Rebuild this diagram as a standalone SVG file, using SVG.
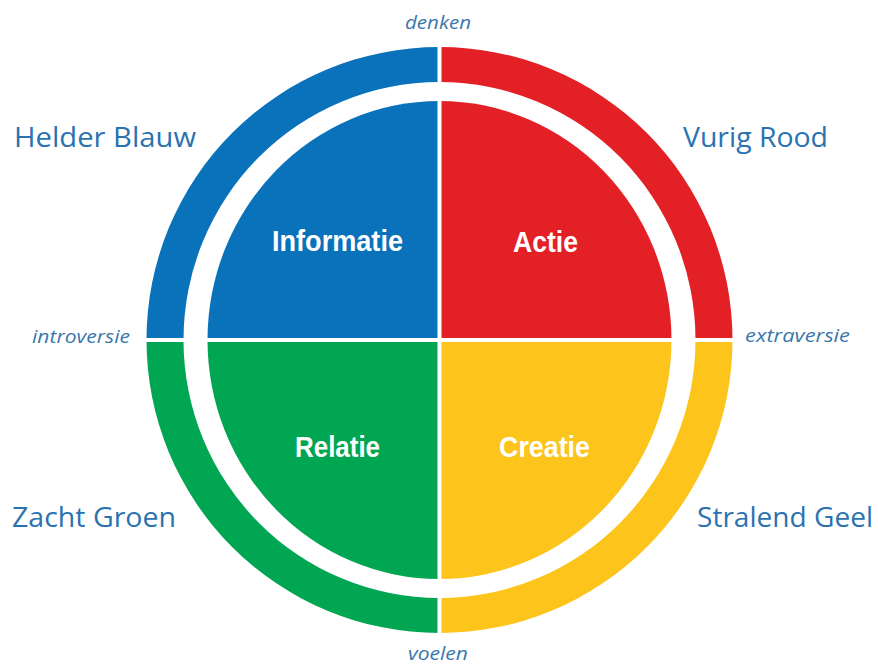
<svg xmlns="http://www.w3.org/2000/svg" width="878" height="664" viewBox="0 0 878 664">
  <style>
    .blue { fill: #0a71bb; }
    .red { fill: #e42027; }
    .yellow { fill: #fdc41b; }
    .green { fill: #00a651; }
    .core { font-family: "Liberation Sans", Arial, sans-serif; font-weight: bold; font-size: 30px; fill: #ffffff; text-anchor: middle; }
    .name { font-family: "Open Sans", "DejaVu Sans", sans-serif; font-size: 28px; fill: #2a72b0; }
    .axis { font-family: "Open Sans", "DejaVu Sans", sans-serif; font-style: italic; font-size: 18px; fill: #3a77ad; }
    .divider { stroke: #ffffff; stroke-width: 4; fill: none; }
  </style>
  <rect width="878" height="664" fill="#ffffff"/>

  <!-- top-left quadrant: blue -->
  <g id="helder-blauw">
    <path class="blue" d="M146.5 340 A293 293 0 0 1 439.5 47 L439.5 82 A256 258 0 0 0 183.5 340 Z"/>
    <path class="blue" d="M439.5 340 L207.5 340 A232 239 0 0 1 439.5 101 Z"/>
    <text class="core" x="337.5" y="251" textLength="131" lengthAdjust="spacingAndGlyphs">Informatie</text>
    <text class="name" x="14" y="147" textLength="182" lengthAdjust="spacingAndGlyphs">Helder Blauw</text>
  </g>

  <!-- top-right quadrant: red -->
  <g id="vurig-rood">
    <path class="red" d="M439.5 47 A293 293 0 0 1 732.5 340 L695.5 340 A256 258 0 0 0 439.5 82 Z"/>
    <path class="red" d="M439.5 340 L439.5 101 A232 239 0 0 1 671.5 340 Z"/>
    <text class="core" x="545.5" y="252" textLength="65" lengthAdjust="spacingAndGlyphs">Actie</text>
    <text class="name" x="683" y="147" textLength="145" lengthAdjust="spacingAndGlyphs">Vurig Rood</text>
  </g>

  <!-- bottom-right quadrant: yellow -->
  <g id="stralend-geel">
    <path class="yellow" d="M732.5 340 A293 293 0 0 1 439.5 633 L439.5 598 A256 258 0 0 0 695.5 340 Z"/>
    <path class="yellow" d="M439.5 340 L671.5 340 A232 239 0 0 1 439.5 579 Z"/>
    <text class="core" x="544.5" y="457" textLength="91" lengthAdjust="spacingAndGlyphs">Creatie</text>
    <text class="name" x="697" y="527" textLength="176" lengthAdjust="spacingAndGlyphs">Stralend Geel</text>
  </g>

  <!-- bottom-left quadrant: green -->
  <g id="zacht-groen">
    <path class="green" d="M439.5 633 A293 293 0 0 1 146.5 340 L183.5 340 A256 258 0 0 0 439.5 598 Z"/>
    <path class="green" d="M439.5 340 L439.5 579 A232 239 0 0 1 207.5 340 Z"/>
    <text class="core" x="337.5" y="457" textLength="85" lengthAdjust="spacingAndGlyphs">Relatie</text>
    <text class="name" x="12" y="527" textLength="164" lengthAdjust="spacingAndGlyphs">Zacht Groen</text>
  </g>

  <!-- white cross separating the four quadrants -->
  <g id="dividers">
    <line class="divider" x1="439.5" y1="40" x2="439.5" y2="640"/>
    <line class="divider" x1="140" y1="340" x2="740" y2="340"/>
  </g>

  <!-- axis labels -->
  <g id="axes">
    <text class="axis" x="405" y="29" textLength="66" lengthAdjust="spacingAndGlyphs">denken</text>
    <text class="axis" x="408" y="660" textLength="60" lengthAdjust="spacingAndGlyphs">voelen</text>
    <text class="axis" x="32" y="343" textLength="98" lengthAdjust="spacingAndGlyphs">introversie</text>
    <text class="axis" x="745" y="342" textLength="105" lengthAdjust="spacingAndGlyphs">extraversie</text>
  </g>
</svg>
